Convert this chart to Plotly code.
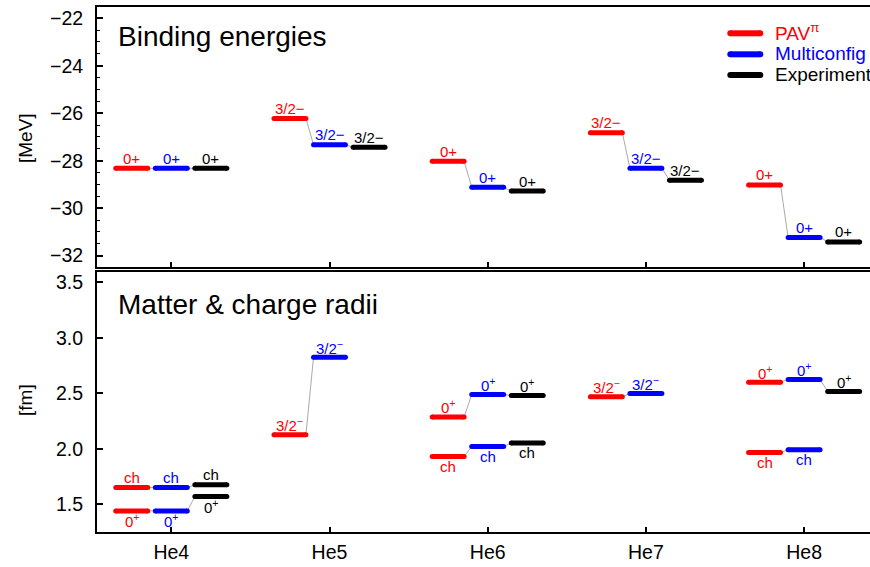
import plotly.graph_objects as go

# ---------------- data ----------------
nuclei = ["He4", "He5", "He6", "He7", "He8"]

# binding energies [MeV]
E_pav = [-28.32, -26.22, -28.02, -26.82, -29.02]
E_mc = [-28.32, -27.33, -29.12, -28.32, -31.23]
E_exp = [-28.32, -27.43, -29.28, -28.82, -31.42]
E_labels = ["0+", "3/2−", "0+", "3/2−", "0+"]

# radii [fm]: ground-state (matter) radius and charge radius
R_pav = [1.44, 2.127, 2.287, 2.468, 2.600]
R_mc = [1.44, 2.824, 2.489, 2.498, 2.625]
R_exp = [1.57, None, 2.480, None, 2.516]
R_labels = ["0<sup>+</sup>", "3/2<sup>−</sup>", "0<sup>+</sup>", "3/2<sup>−</sup>", "0<sup>+</sup>"]
R_label_side = ["below", "above", "above", "above", "above"]

Rch_pav = [1.65, None, 1.930, None, 1.967]
Rch_mc = [1.65, None, 2.020, None, 1.990]
Rch_exp = [1.675, None, 2.052, None, None]
Rch_label_side = ["above", "below", "below", "below", "below"]

series_names = ["PAV<sup>π</sup>", "Multiconfig", "Experiment"]
colors = ["#ff0000", "#0000ff", "#000000"]

# ---------------- layout constants ----------------
W, H = 870, 567
L = 97
offsets = [-0.25, 0.0, 0.25]
hw = 0.101
FONT = "Liberation Sans, Arial, sans-serif"

fig = go.Figure()


def add_row(vals_list, xa, ya):
    # gray connectors first
    cx, cy = [], []
    for i in range(len(nuclei)):
        for k in range(2):
            a, b = vals_list[k][i], vals_list[k + 1][i]
            if a is not None and b is not None:
                cx += [i + offsets[k] + hw, i + offsets[k + 1] - hw, None]
                cy += [a, b, None]
    fig.add_trace(go.Scatter(x=cx, y=cy, mode="lines", xaxis=xa, yaxis=ya,
                             line=dict(color="#aaaaaa", width=1),
                             showlegend=False, hoverinfo="skip"))
    for k, vals in enumerate(vals_list):
        bx, by = [], []
        for i, v in enumerate(vals):
            if v is None:
                continue
            bx += [i + offsets[k] - hw, i + offsets[k] + hw, None]
            by += [v, v, None]
        fig.add_trace(go.Scatter(x=bx, y=by, mode="lines+markers", xaxis=xa, yaxis=ya,
                                 line=dict(color=colors[k], width=5),
                                 marker=dict(color=colors[k], size=5, line=dict(width=0)),
                                 showlegend=False, hoverinfo="skip"))


def add_labels(vals_list, texts, sides, xa, ya):
    for k, vals in enumerate(vals_list):
        for i, v in enumerate(vals):
            if v is None:
                continue
            side = sides[i]
            fig.add_annotation(x=i + offsets[k], y=v, xref=xa, yref=ya,
                               text=texts[i], showarrow=False,
                               yshift=10 if side == "above" else -10,
                               xanchor="center", yanchor="middle",
                               font=dict(family=FONT, size=15, color=colors[k]))


# top panel
add_row([E_pav, E_mc, E_exp], "x", "y")
add_labels([E_pav, E_mc, E_exp], E_labels, ["above"] * 5, "x", "y")

# bottom panel
add_row([R_pav, R_mc, R_exp], "x2", "y2")
add_row([Rch_pav, Rch_mc, Rch_exp], "x2", "y2")
add_labels([R_pav, R_mc, R_exp], R_labels, R_label_side, "x2", "y2")
add_labels([Rch_pav, Rch_mc, Rch_exp], ["ch"] * 5, Rch_label_side, "x2", "y2")

# ---------------- axes ----------------
xrange = [(L - 171.3) / 158.2, (W - 171.3) / 158.2]
top_dom = [1 - 267.3 / H, 1 - 7.3 / H]
bot_dom = [1 - 532.3 / H, 1 - 272.3 / H]

axis_common = dict(showline=True, linecolor="black", linewidth=2, ticks="inside",
                   tickcolor="black", tickwidth=1.5, showgrid=False, zeroline=False,
                   tickfont=dict(family=FONT, size=19.5, color="black"))

fig.update_layout(
    xaxis=dict(domain=[0, 1], range=xrange, anchor="y", mirror=True, ticklen=5,
               tickvals=list(range(len(nuclei))), showticklabels=False, **axis_common),
    yaxis=dict(domain=top_dom, range=[-32.49, -21.54], anchor="x", mirror=False,
               tickvals=[-32, -30, -28, -26, -24, -22], ticklen=6, ticklabelstandoff=8,
               minor=dict(dtick=0.5, ticks="inside", ticklen=3, tickcolor="black",
                          tickwidth=1, showgrid=False, tick0=-32),
               **axis_common),
    xaxis2=dict(domain=[0, 1], range=xrange, anchor="y2", mirror=True, ticklen=5,
                tickvals=list(range(len(nuclei))), ticktext=nuclei, ticklabelstandoff=1,
                **axis_common),
    yaxis2=dict(domain=bot_dom, range=[1.247, 3.59], anchor="x2", mirror=False,
                tickvals=[1.5, 2.0, 2.5, 3.0, 3.5], tickformat=".1f", ticklen=6,
                ticklabelstandoff=8, **axis_common),
)

# panel titles and axis titles
fig.add_annotation(xref="paper", yref="paper", x=(116 - L) / (W - L), y=1 - 37 / H,
                   text="Binding energies", showarrow=False, xanchor="left", yanchor="middle",
                   font=dict(family=FONT, size=28, color="black"))
fig.add_annotation(xref="paper", yref="paper", x=(116 - L) / (W - L), y=1 - 304 / H,
                   text="Matter &amp; charge radii", showarrow=False, xanchor="left",
                   yanchor="middle", font=dict(family=FONT, size=28, color="black"))
fig.add_annotation(xref="paper", yref="paper", x=(25 - L) / (W - L), y=1 - 138 / H,
                   text="[MeV]", showarrow=False, textangle=-90, xanchor="center",
                   yanchor="middle", font=dict(family=FONT, size=19, color="black"))
fig.add_annotation(xref="paper", yref="paper", x=(25 - L) / (W - L), y=1 - 400 / H,
                   text="[fm]", showarrow=False, textangle=-90, xanchor="center",
                   yanchor="middle", font=dict(family=FONT, size=19, color="black"))

# manual legend
leg_y = [33.3, 54.3, 75.0]
for k in range(3):
    yp = 1 - leg_y[k] / H
    x0p = (730.3 - L) / (W - L)
    x1p = (760.3 - L) / (W - L)
    fig.add_shape(type="line", xref="paper", yref="paper", x0=x0p, x1=x1p, y0=yp, y1=yp,
                  line=dict(color=colors[k], width=6))
    for xp in (x0p, x1p):
        fig.add_shape(type="circle", xref="paper", yref="paper", xsizemode="pixel",
                      ysizemode="pixel", xanchor=xp, yanchor=yp, x0=-3, x1=3, y0=-3, y1=3,
                      fillcolor=colors[k], line=dict(width=0))
    fig.add_annotation(xref="paper", yref="paper", x=(773 - L) / (W - L), y=yp,
                       text=series_names[k], showarrow=False, xanchor="left",
                       yanchor="middle", yshift=1,
                       font=dict(family=FONT, size=19, color=colors[k]))

fig.update_layout(width=W, height=H, template="none",
                  margin=dict(l=L, r=0, t=0, b=0, pad=0),
                  paper_bgcolor="white", plot_bgcolor="white", showlegend=False)

fig.write_html("out.html")
